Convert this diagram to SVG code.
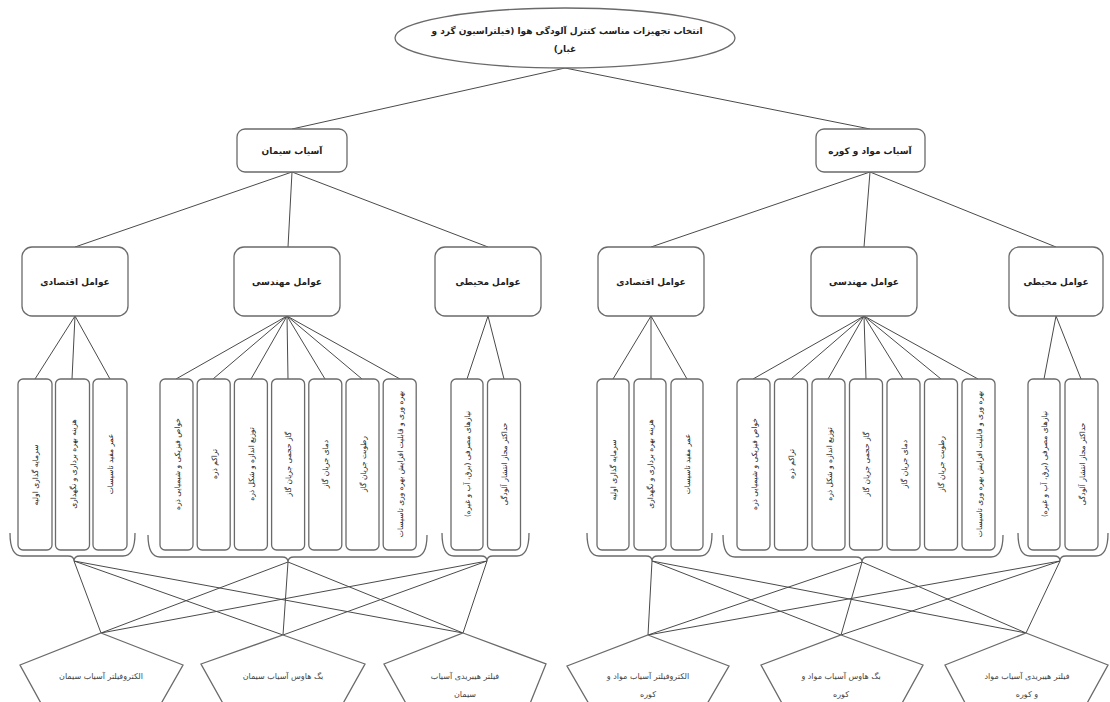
<svg xmlns="http://www.w3.org/2000/svg" width="1110" height="702" viewBox="0 0 1110 702">
<style>
.bg{fill:#fff}
.box{fill:#fff;stroke:#6a6a6a;stroke-width:1.3}
.ln{fill:none;stroke:#4a4a4a;stroke-width:1}
.br{fill:none;stroke:#6a6a6a;stroke-width:1.3}
text{font-family:"DejaVu Sans","Noto Sans",sans-serif;fill:#222;text-anchor:middle;direction:rtl}
.t1{font-size:9px;font-weight:bold}
.t2{font-size:9px;font-weight:bold}
.tv{font-size:7.5px}
.tp{font-size:8px;fill:#444}
</style>
<rect class="bg" width="1110" height="702"/>
<g id="connectors">
<path class="ln" d="M565,68 L292,129 M565,68 L870,129"/>
<path class="ln" d="M292,172 L75,247 M292,172 L288,247 M292,172 L488,247"/>
<path class="ln" d="M870,172 L651,247 M870,172 L864,247 M870,172 L1056,247"/>
<path class="ln" d="M75,316 L35,379 M75,316 L72,379 M75,316 L110,379"/>
<path class="ln" d="M287,316 L176,379 M287,316 L213,379 M287,316 L251,379 M287,316 L288,379 M287,316 L325,379 M287,316 L362,379 M287,316 L400,379"/>
<path class="ln" d="M488,316 L467,379 M488,316 L504,379"/>
<path class="ln" d="M651,316 L613,379 M651,316 L651,379 M651,316 L687,379"/>
<path class="ln" d="M864,316 L753,379 M864,316 L791,379 M864,316 L828,379 M864,316 L866,379 M864,316 L903,379 M864,316 L941,379 M864,316 L978,379"/>
<path class="ln" d="M1056,316 L1044,379 M1056,316 L1081,379"/>
<path class="ln" d="M74,561 L101,633 M74,561 L283,635 M74,561 L463,633 M288,562 L101,633 M288,562 L283,635 M288,562 L463,633 M487,561 L101,633 M487,561 L283,635 M487,561 L463,633"/>
<path class="ln" d="M652,561 L648,635 M652,561 L841,635 M652,561 L1026,633 M862,562 L648,635 M862,562 L841,635 M862,562 L1026,633 M1060,561 L648,635 M1060,561 L841,635 M1060,561 L1026,633"/>
</g>
<g id="n-root"><ellipse class="box" cx="565" cy="38" rx="170" ry="30"/><text class="t1" x="567" y="34">انتخاب تجهیزات مناسب کنترل آلودگی هوا (فیلتراسیون گرد و</text><text class="t1" x="565" y="52">غبار)</text></g>
<g id="n-cement"><rect class="box" x="237" y="129" width="110" height="43" rx="8"/><text class="t2" x="292" y="154">آسیاب سیمان</text></g>
<g id="n-raw"><rect class="box" x="816" y="129" width="109" height="43" rx="8"/><text class="t2" x="870" y="154">آسیاب مواد و کوره</text></g>
<g id="n-l-econ"><rect class="box" x="22" y="247" width="106" height="69" rx="10"/><text class="t2" x="75" y="285">عوامل اقتصادی</text></g>
<g id="n-l-eng"><rect class="box" x="234" y="247" width="106" height="69" rx="10"/><text class="t2" x="287" y="285">عوامل مهندسی</text></g>
<g id="n-l-env"><rect class="box" x="435" y="247" width="106" height="69" rx="10"/><text class="t2" x="488" y="285">عوامل محیطی</text></g>
<g id="n-r-econ"><rect class="box" x="598" y="247" width="106" height="69" rx="10"/><text class="t2" x="651" y="285">عوامل اقتصادی</text></g>
<g id="n-r-eng"><rect class="box" x="811" y="247" width="106" height="69" rx="10"/><text class="t2" x="864" y="285">عوامل مهندسی</text></g>
<g id="n-r-env"><rect class="box" x="1009" y="247" width="94" height="69" rx="10"/><text class="t2" x="1056" y="285">عوامل محیطی</text></g>
<g id="l-econ-items">
<rect class="box" x="18" y="379" width="34" height="171" rx="5"/><text class="tv" transform="translate(38,475) rotate(-90)">سرمایه گذاری اولیه</text>
<rect class="box" x="55.5" y="379" width="34" height="171" rx="5"/><text class="tv" transform="translate(75.5,464) rotate(-90)">هزینه بهره برداری و نگهداری</text>
<rect class="box" x="93" y="379" width="34" height="171" rx="5"/><text class="tv" transform="translate(113,464) rotate(-90)">عمر مفید تاسیسات</text>
<path class="br" d="M10,533 Q10,556 22,556 L68,556 Q74,556 74,561 Q74,556 80,556 L123,556 Q135,556 135,533"/>
</g>
<g id="l-eng-items">
<rect class="box" x="160" y="379" width="33" height="171" rx="5"/><text class="tv" transform="translate(179.5,464) rotate(-90)">خواص فیزیکی و شیمیایی ذره</text>
<rect class="box" x="197.2" y="379" width="33" height="171" rx="5"/><text class="tv" transform="translate(216.7,464) rotate(-90)">تراکم ذره</text>
<rect class="box" x="234.4" y="379" width="33" height="171" rx="5"/><text class="tv" transform="translate(253.9,464) rotate(-90)">توزیع اندازه و شکل ذره</text>
<rect class="box" x="271.6" y="379" width="33" height="171" rx="5"/><text class="tv" transform="translate(291.1,464) rotate(-90)">گاز حجمی جریان گاز</text>
<rect class="box" x="308.8" y="379" width="33" height="171" rx="5"/><text class="tv" transform="translate(328.3,464) rotate(-90)">دمای جریان گاز</text>
<rect class="box" x="346" y="379" width="33" height="171" rx="5"/><text class="tv" transform="translate(365.5,464) rotate(-90)">رطوبت جریان گاز</text>
<rect class="box" x="383.2" y="379" width="33" height="171" rx="5"/><text class="tv" transform="translate(402.7,464) rotate(-90)">بهره وری و قابلیت افزایش بهره وری تاسیسات</text>
<path class="br" d="M148,535 Q148,557 160,557 L282,557 Q288,557 288,562 Q288,557 294,557 L415,557 Q427,557 427,535"/>
</g>
<g id="l-env-items">
<rect class="box" x="451" y="379" width="32" height="171" rx="5"/><text class="tv" transform="translate(470,464) rotate(-90)">نیازهای مصرفی (برق، آب و غیره)</text>
<rect class="box" x="487.5" y="379" width="33" height="171" rx="5"/><text class="tv" transform="translate(507,464) rotate(-90)">حداکثر مجاز انتشار آلودگی</text>
<path class="br" d="M442,533 Q442,556 454,556 L481,556 Q487,556 487,561 Q487,556 493,556 L517,556 Q529,556 529,533"/>
</g>
<g id="r-econ-items">
<rect class="box" x="597" y="379" width="32" height="171" rx="5"/><text class="tv" transform="translate(616,470) rotate(-90)">سرمایه گذاری اولیه</text>
<rect class="box" x="634" y="379" width="32" height="171" rx="5"/><text class="tv" transform="translate(653,464) rotate(-90)">هزینه بهره برداری و نگهداری</text>
<rect class="box" x="671" y="379" width="32" height="171" rx="5"/><text class="tv" transform="translate(690,464) rotate(-90)">عمر مفید تاسیسات</text>
<path class="br" d="M587,533 Q587,556 599,556 L646,556 Q652,556 652,561 Q652,556 658,556 L700,556 Q712,556 712,533"/>
</g>
<g id="r-eng-items">
<rect class="box" x="737" y="379" width="33" height="171" rx="5"/><text class="tv" transform="translate(756.5,464) rotate(-90)">خواص فیزیکی و شیمیایی ذره</text>
<rect class="box" x="774.5" y="379" width="33" height="171" rx="5"/><text class="tv" transform="translate(794,464) rotate(-90)">تراکم ذره</text>
<rect class="box" x="812" y="379" width="33" height="171" rx="5"/><text class="tv" transform="translate(831.5,464) rotate(-90)">توزیع اندازه و شکل ذره</text>
<rect class="box" x="849.5" y="379" width="33" height="171" rx="5"/><text class="tv" transform="translate(869,464) rotate(-90)">گاز حجمی جریان گاز</text>
<rect class="box" x="887" y="379" width="33" height="171" rx="5"/><text class="tv" transform="translate(906.5,464) rotate(-90)">دمای جریان گاز</text>
<rect class="box" x="924.5" y="379" width="33" height="171" rx="5"/><text class="tv" transform="translate(944,464) rotate(-90)">رطوبت جریان گاز</text>
<rect class="box" x="962" y="379" width="33" height="171" rx="5"/><text class="tv" transform="translate(981.5,464) rotate(-90)">بهره وری و قابلیت افزایش بهره وری تاسیسات</text>
<path class="br" d="M723,535 Q723,557 735,557 L856,557 Q862,557 862,562 Q862,557 868,557 L991,557 Q1003,557 1003,535"/>
</g>
<g id="r-env-items">
<rect class="box" x="1028" y="379" width="32" height="171" rx="5"/><text class="tv" transform="translate(1047,464) rotate(-90)">نیازهای مصرفی (برق، آب و غیره)</text>
<rect class="box" x="1065" y="379" width="33" height="171" rx="5"/><text class="tv" transform="translate(1084.5,464) rotate(-90)">حداکثر مجاز انتشار آلودگی</text>
<path class="br" d="M1018,533 Q1018,556 1030,556 L1054,556 Q1060,556 1060,561 Q1060,556 1066,556 L1096,556 Q1108,556 1108,533"/>
</g>
<g id="p-l1"><polygon class="box" points="101,633 183,665 154,716 48,716 20,665"/><text class="tp" x="101" y="679">الکتروفیلتر آسیاب سیمان</text></g>
<g id="p-l2"><polygon class="box" points="283,635 365,664 336,716 230,716 201,664"/><text class="tp" x="283" y="679">بگ هاوس آسیاب سیمان</text></g>
<g id="p-l3"><polygon class="box" points="463,633 546,664 525,716 413,716 384,664"/><text class="tp" x="465" y="679">فیلتر هیبریدی آسیاب</text><text class="tp" x="465" y="697">سیمان</text></g>
<g id="p-r1"><polygon class="box" points="648,635 729,666 700,716 596,716 567,666"/><text class="tp" x="648" y="679">الکتروفیلتر آسیاب مواد و</text><text class="tp" x="648" y="697">کوره</text></g>
<g id="p-r2"><polygon class="box" points="841,635 923,665 895,716 789,716 761,665"/><text class="tp" x="841" y="679">بگ هاوس آسیاب مواد و</text><text class="tp" x="841" y="697">کوره</text></g>
<g id="p-r3"><polygon class="box" points="1026,633 1108,665 1080,716 972,716 945,665"/><text class="tp" x="1027" y="679">فیلتر هیبریدی آسیاب مواد</text><text class="tp" x="1027" y="697">و کوره</text></g>
</svg>
